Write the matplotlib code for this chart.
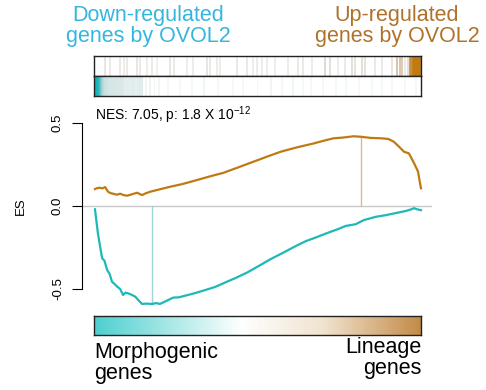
import numpy as np
import matplotlib
matplotlib.use("Agg")
import matplotlib.pyplot as plt
from matplotlib.colors import LinearSegmentedColormap

plt.rcParams['font.family'] = ['Liberation Sans', 'DejaVu Sans']
plt.rcParams['mathtext.fontset'] = 'custom'
plt.rcParams['mathtext.rm'] = 'Liberation Sans'

n_genes = 1000

# running enrichment score, up-regulated set (rank, ES)
up_rank = [3, 10, 18, 26, 34, 43, 50, 58, 70, 80, 90, 101, 115, 132, 140, 147, 160,
           172, 200, 233, 270, 316, 350, 396, 440, 488, 530, 571, 620, 672, 700, 733,
           760, 794, 816, 847, 877, 900, 917, 933, 948, 963, 979, 991, 997, 1000]
up_es = [0.102, 0.108, 0.11, 0.106, 0.114, 0.086, 0.078, 0.074, 0.068, 0.074, 0.066,
         0.062, 0.07, 0.08, 0.072, 0.066, 0.078, 0.086, 0.1, 0.116, 0.132, 0.157,
         0.176, 0.2, 0.232, 0.267, 0.298, 0.327, 0.353, 0.377, 0.392, 0.408, 0.412,
         0.42, 0.417, 0.41, 0.408, 0.404, 0.387, 0.357, 0.327, 0.317, 0.257, 0.207,
         0.137, 0.107]

# running enrichment score, down-regulated set
down_rank = [3, 12, 20, 25, 32, 40, 48, 55, 63, 71, 80, 89, 96, 104, 115, 126, 137,
             147, 160, 178, 190, 202, 220, 242, 260, 279, 305, 334, 370, 402, 435, 469,
             505, 540, 580, 623, 650, 678, 700, 724, 745, 770, 800, 825, 862, 893, 929,
             954, 970, 979, 988, 1000]
down_es = [-0.02, -0.165, -0.26, -0.315, -0.33, -0.385, -0.41, -0.456, -0.47, -0.486,
           -0.5, -0.536, -0.522, -0.526, -0.535, -0.546, -0.57, -0.59, -0.588, -0.59,
           -0.585, -0.59, -0.573, -0.552, -0.55, -0.54, -0.527, -0.51, -0.488, -0.46,
           -0.432, -0.40, -0.36, -0.32, -0.28, -0.235, -0.21, -0.19, -0.173, -0.155,
           -0.14, -0.12, -0.11, -0.085, -0.065, -0.055, -0.04, -0.03, -0.02, -0.013,
           -0.02, -0.025]

up_peak = (816, 0.42)
down_peak = (178, -0.59)

# barcode hits with shading weight
up_hits = [34, 49, 80, 92, 101, 131, 141, 162, 177, 193, 232, 245, 284, 303, 346, 355,
           376, 385, 437, 468, 486, 498, 514, 529, 554, 593, 624, 639, 667, 706, 722,
           746, 768, 789, 798, 820, 829, 859, 881, 911, 927, 936, 942, 952, 960, 966,
           970, 974, 978, 982, 986, 990, 994, 998]
up_wt = [0.35, 0.3, 0.3, 0.25, 0.3, 0.35, 0.3, 0.25, 0.3, 0.2, 0.35, 0.3, 0.25, 0.25,
         0.35, 0.3, 0.25, 0.25, 0.3, 0.3, 0.25, 0.25, 0.25, 0.25, 0.25, 0.25, 0.3, 0.3,
         0.25, 0.5, 0.45, 0.25, 0.3, 0.45, 0.4, 0.45, 0.4, 0.3, 0.3, 0.35, 0.62, 0.6,
         0.58, 0.3, 0.45, 0.8, 0.9, 0.95, 1.0, 1.0, 1.0, 1.0, 1.0, 0.95]

down_hits = [1, 4, 7, 10, 13, 16, 19, 22, 25, 28, 32, 36, 40, 44, 48, 52, 56, 60, 64,
             68, 72, 76, 80, 84, 88, 92, 98, 104, 110, 116, 122, 128, 134, 140, 146,
             158, 170, 185, 200, 225, 262, 300, 335, 380, 425, 455, 500, 540, 575,
             610, 640, 665, 700, 740, 770, 810, 850, 880, 910, 950, 985]
down_wt = [1.0, 1.0, 1.0, 0.97, 0.95, 0.9, 0.8, 0.7, 0.6, 0.55, 0.5, 0.48, 0.45,
           0.45, 0.42, 0.42, 0.4, 0.42, 0.4, 0.38, 0.4, 0.38, 0.38, 0.4, 0.36, 0.3,
           0.28, 0.3, 0.28, 0.32, 0.3, 0.25, 0.3, 0.32, 0.3, 0.15, 0.18, 0.15, 0.15,
           0.12, 0.12, 0.12, 0.15, 0.12, 0.12, 0.12, 0.12, 0.15, 0.12, 0.15, 0.12,
           0.12, 0.12, 0.12, 0.12, 0.12, 0.12, 0.12, 0.12, 0.12, 0.12]

up_col = '#BF7A12'
down_col = '#1DB8B8'
up_cmap = LinearSegmentedColormap.from_list(
    'up', [(0, '#FFFFFF'), (0.5, '#E0DBD5'), (0.75, '#CDAA80'), (1, '#C07A10')])
down_cmap = LinearSegmentedColormap.from_list(
    'down', [(0, '#FFFFFF'), (0.45, '#D3E3E3'), (0.75, '#8CCACB'), (1, '#12B4B8')])
bar_cmap = LinearSegmentedColormap.from_list(
    'bar', [(0, '#4ECFCF'), (0.45, '#FFFFFF'), (0.7, '#F1E3CF'), (1, '#C38A46')])

W, H = 486, 390
fig = plt.figure(figsize=(W / 100, H / 100), dpi=100)


def px_axes(x0, y0, x1, y1):
    return fig.add_axes([x0 / W, 1 - y1 / H, (x1 - x0) / W, (y1 - y0) / H])


# barcode strips
for (y0, y1), hits, wts, cm in [((56, 76), up_hits, up_wt, up_cmap),
                                ((76, 96), down_hits, down_wt, down_cmap)]:
    ax = px_axes(94, y0, 421, y1)
    order = np.argsort(wts)
    ax.bar(np.array(hits)[order], 1, width=6, color=cm(np.array(wts)[order]),
           align='center', linewidth=0)
    ax.set_xlim(0, n_genes)
    ax.set_ylim(0, 1)
    ax.set_xticks([])
    ax.set_yticks([])
    for s in ax.spines.values():
        s.set_linewidth(1.0)
        s.set_color('#222222')

# main running-sum plot
sx = 0.327  # px per rank
ax = px_axes(82, 108, 432, 306)
ax.set_xlim((82 - 94) / sx, (432 - 94) / sx)
ax.set_ylim((206 - 306) / 166, (206 - 108) / 166)
ax.axhline(0, color='#C8C8C8', lw=1.0)
ax.plot([up_peak[0], up_peak[0]], [0, up_peak[1]], color='#D9BC94', lw=1.0)
ax.plot([down_peak[0], down_peak[0]], [0, down_peak[1]], color='#9ED6D8', lw=1.0)
ax.plot(up_rank, up_es, color=up_col, lw=1.6)
ax.plot(down_rank, down_es, color=down_col, lw=1.6)
for s in ['top', 'right', 'bottom']:
    ax.spines[s].set_visible(False)
ax.spines['left'].set_bounds(-0.5, 0.5)
ax.spines['left'].set_linewidth(0.8)
ax.set_xticks([])
ax.set_yticks([-0.5, 0.0, 0.5])
ax.set_yticklabels(['-0.5', '0.0', '0.5'], rotation=90, va='center', fontsize=9.5)
ax.tick_params(axis='y', length=7, width=0.8, pad=6)
fig.text(21 / W, 1 - 206 / H, 'ES', rotation=90, ha='center', va='center', fontsize=9.5)
fig.text(95 / W, 1 - 115 / H, 'NES: 7.05, p: 1.8 X 10$^{-12}$', ha='left', va='center',
         fontsize=10)

# colour gradient bar
axb = px_axes(94, 316, 421, 335)
axb.imshow(np.linspace(0, 1, 256)[None, :], aspect='auto', cmap=bar_cmap,
           extent=[0, 1, 0, 1])
axb.set_xticks([])
axb.set_yticks([])
for s in axb.spines.values():
    s.set_linewidth(1.0)
    s.set_color('#222222')

# annotations
fig.text(148 / W, 1 - 26 / H, 'Down-regulated\ngenes by OVOL2', ha='center', va='center',
         color='#35B6DE', fontsize=15.5, linespacing=0.98)
fig.text(397 / W, 1 - 26 / H, 'Up-regulated\ngenes by OVOL2', ha='center', va='center',
         color='#B0722A', fontsize=15.5, linespacing=0.98)
fig.text(94 / W, 1 - 363 / H, 'Morphogenic\ngenes', ha='left', va='center',
         fontsize=15.5, linespacing=0.98)
fig.text(421 / W, 1 - 358 / H, 'Lineage\ngenes', ha='right', va='center',
         fontsize=15.5, linespacing=0.98, multialignment='right')

fig.savefig('out.png', dpi=100)
